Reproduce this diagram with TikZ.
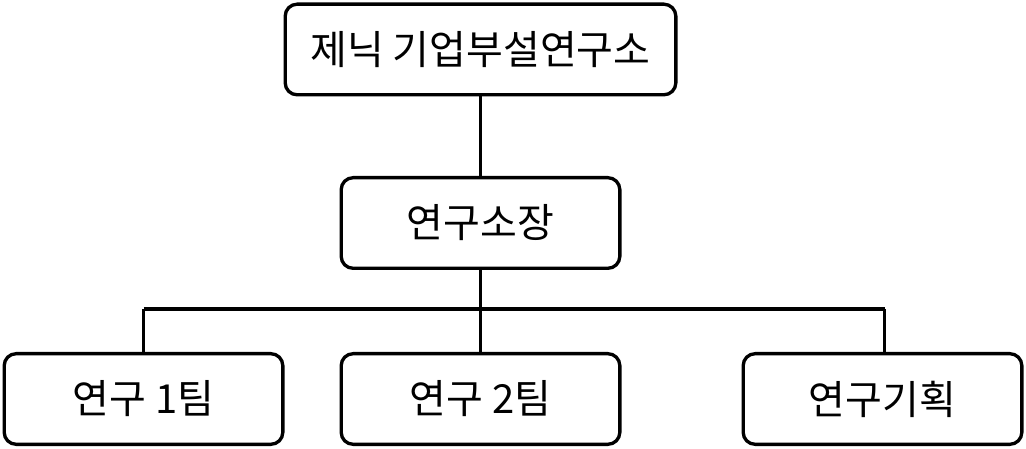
\documentclass[tikz,border=0pt]{standalone}
\usepackage{fontspec}
\setmainfont{Noto Sans CJK KR}
\begin{document}
\begin{tikzpicture}[x=0.75pt,y=-0.75pt,
  box/.style={draw=black,line width=2.5pt,rounded corners=9pt,fill=white,inner sep=0pt,minimum height=68pt,font=\fontsize{30}{34}\selectfont},
  ln/.style={line width=2.5pt}]
\useasboundingbox (0,0) rectangle (1026,449);
\node[box,minimum width=293pt] (top) at (480.5,49.5) {제닉 기업부설연구소};
\node[box,minimum width=209pt] (mid) at (480.5,223) {연구소장};
\node[box,minimum width=209pt] (b1) at (143.5,399) {연구 1팀};
\node[box,minimum width=209pt] (b2) at (480.5,399) {연구 2팀};
\node[box,minimum width=209pt] (b3) at (882.5,399) {연구기획};
\coordinate (l) at (143.5,309);
\coordinate (r) at (884.5,309);
\coordinate (c) at (480.5,309);
\draw[ln] (top) -- (mid);
\draw[ln] (mid) -- (b2);
\draw[ln] (l) -- (r);
\draw[ln] (l) -- (b1.north);
\draw[ln] (r) -- (r |- b3.north);
\end{tikzpicture}
\end{document}
